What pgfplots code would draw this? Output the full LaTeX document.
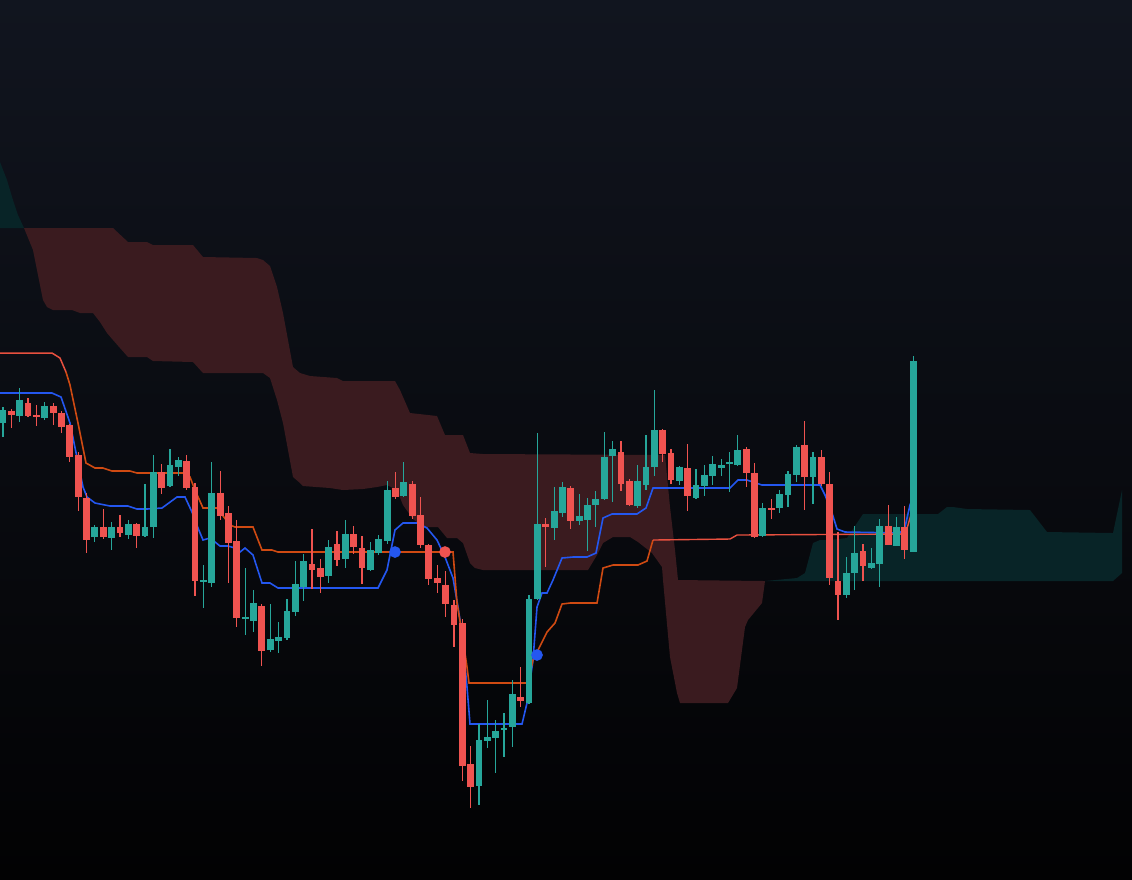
\documentclass[border=0pt]{standalone}
\usepackage{pgfplots}
\usepackage{pgfplotstable}
\pgfplotsset{compat=1.18}
\definecolor{cgreen}{HTML}{26A69A}
\definecolor{cred}{HTML}{EF5350}
\definecolor{cblue}{HTML}{2457F0}
\definecolor{ckijo}{HTML}{CF4A12}
\definecolor{ckijr}{HTML}{E8503F}
\definecolor{cloudred}{HTML}{3A1B1F}
\definecolor{cloudteal}{HTML}{082427}
\definecolor{bgtop}{HTML}{11151F}
\definecolor{bgmid}{HTML}{0C0E14}
\definecolor{bgbot}{HTML}{020203}

% candle index, open, high, low, close (chart rows, larger = lower price)
\pgfplotstableread{
i o h l c
0 423 407 437 410
1 411 409 428 415
2 416 388 422 400
3 403 398 417 416
4 415 405 426 417
5 418 402 420 406
6 406 403 425 413
7 413 411 433 427
8 425 424 462 457
9 455 452 511 497
10 498 493 553 540
11 537 525 542 527
12 527 509 539 537
13 538 522 550 527
14 527 515 537 533
15 535 520 539 524
16 524 523 548 536
17 536 484 537 527
18 527 455 538 472
19 472 464 494 488
20 486 449 487 465
21 467 457 476 460
22 461 455 490 488
23 487 483 596 581
24 582 565 608 580
25 583 462 587 493
26 493 471 520 516
27 513 506 583 543
28 541 520 627 618
29 619 568 635 617
30 621 590 632 603
31 606 604 666 651
32 650 604 652 639
33 641 622 653 637
34 638 599 640 611
35 612 561 616 584
36 587 554 601 561
37 564 529 589 570
38 568 559 593 577
39 576 540 583 547
40 544 531 566 560
41 559 520 568 534
42 534 526 554 547
43 548 536 584 568
44 570 542 571 550
45 553 535 555 539
46 541 481 544 490
47 488 472 499 497
48 496 462 497 482
49 484 481 519 516
50 515 497 548 545
51 545 544 585 579
52 578 565 593 583
53 585 571 617 604
54 605 600 647 625
55 623 619 781 766
56 764 746 808 787
57 786 724 805 740
58 741 700 748 737
59 738 720 773 731
60 730 713 757 728
61 727 680 747 694
62 697 667 707 701
63 703 595 704 599
64 599 433 600 524
65 524 518 567 527
66 528 487 540 511
67 513 482 517 487
68 488 486 529 521
69 521 494 525 516
70 520 498 551 505
71 505 491 527 499
72 499 432 500 457
73 456 441 502 449
74 452 441 491 484
75 481 479 506 505
76 506 465 508 481
77 485 435 490 467
78 467 390 476 430
79 430 429 462 454
80 453 449 484 480
81 481 466 485 467
82 468 444 511 496
83 498 469 499 485
84 486 465 496 475
85 476 456 485 464
86 468 459 476 465
87 464 452 492 462
88 465 435 466 450
89 449 447 487 473
90 473 463 538 537
91 536 503 537 508
92 508 499 519 510
93 508 490 513 494
94 495 471 507 474
95 475 445 482 447
96 445 421 510 477
97 477 452 504 457
98 457 450 486 484
99 484 472 585 578
100 581 532 620 595
101 595 557 598 573
102 573 526 590 553
103 551 544 581 566
104 568 548 569 563
105 564 519 587 526
106 526 505 545 545
107 546 517 546 527
108 527 506 559 550
109 552 356 552 361
}\candles

\begin{document}
\begin{tikzpicture}
\shade[top color=bgtop, middle color=bgmid, bottom color=bgbot] (0,0) rectangle (11.32cm,8.79cm);
\begin{axis}[at={(0,0)}, anchor=south west,
  width=11.32cm, height=8.79cm, scale only axis,
  xmin=0, xmax=1132, ymin=0, ymax=879, y dir=reverse,
  hide axis, clip=true]

% ---- cloud: bullish (teal) at left
\addplot[fill=cloudteal, draw=none] coordinates {
(0,162) (7,180) (13,200) (18,215) (24,228) (0,228)} -- cycle;
% ---- cloud: bearish (red)
\addplot[fill=cloudred, draw=none] coordinates {
(24,228) (113,228) (128,242) (147,242) (153,245) (193,245) (203,257) (257,258)
(263,260) (270,266) (277,287) (283,313) (293,367) (300,373) (310,376) (337,378)
(343,381) (395,381) (400,390) (410,413) (437,416) (445,435) (463,435) (470,453)
(483,454) (665,455) (670,507) (675,550) (678,580) (765,581)
(762,603) (748,620) (745,627) (737,688) (728,703) (680,703) (677,693) (670,657)
(663,580) (662,567) (652,553) (638,542) (630,537) (613,537) (603,543) (597,555)
(588,570) (483,570) (475,568) (470,563) (463,543) (457,538) (447,538) (438,527)
(423,527) (413,519) (403,505) (397,490) (387,485) (377,487) (363,489) (343,490)
(330,488) (303,486) (300,483) (293,477) (283,423) (277,400) (270,378) (263,373)
(203,373) (193,362) (153,361) (147,357) (128,357) (120,348) (113,340) (107,333)
(100,322) (93,313) (80,313) (72,310) (53,310) (47,307) (43,300) (33,250)} -- cycle;
% ---- cloud: bullish (teal) at right
\addplot[fill=cloudteal, draw=none] coordinates {
(765,581) (797,578) (805,573) (813,543) (820,540) (830,540) (847,538) (857,523)
(863,514) (938,514) (947,507) (953,507) (967,509) (1030,510) (1047,532) (1113,533)
(1122,490) (1122,573) (1113,581)} -- cycle;

% ---- Tenkan-sen
\addplot[cblue, line width=0.016cm, mark=none] coordinates {
(0,393) (52,393) (61,397) (70,423) (83,487) (87,497) (95,503) (110,506) (128,506)
(137,509) (147,509) (162,508) (177,497) (185,497) (192,512) (198,528) (203,540)
(210,538) (220,546) (228,546) (235,548) (240,552) (245,548) (253,555) (262,583)
(270,583) (278,588) (378,588) (387,570) (395,530) (403,523) (417,523) (427,528)
(437,540) (445,557) (453,578) (458,607) (462,633) (467,687) (470,724) (522,724)
(527,703) (533,660) (537,607) (542,593) (547,593) (553,580) (562,558) (573,557)
(587,557) (596,553) (603,518) (612,514) (637,514) (646,508) (653,488) (730,488)
(738,480) (747,480) (762,485) (820,485) (825,495) (832,513) (837,529) (845,532)
(900,533) (905,527) (910,505) (913,497)};
% ---- Kijun-sen
\addplot[ckijr, line width=0.015cm, mark=none] coordinates {
(0,353) (52,353) (60,358) (66,372)};
\addplot[ckijo, line width=0.016cm, mark=none] coordinates {
(66,372) (70,385) (78,423) (86,463) (95,468) (103,468) (112,471) (130,471)
(137,473) (187,473) (190,477) (195,490) (203,508) (217,508) (230,525) (235,527)
(253,527) (262,550) (272,550) (278,552) (453,552) (457,603) (462,633) (467,667)
(469,683) (527,683) (530,673) (533,660) (538,650) (547,632) (555,623) (562,604)
(570,603) (597,603) (603,568) (613,565) (638,565) (647,561) (653,540)};
\addplot[ckijr, line width=0.014cm, mark=none] coordinates {
(653,540) (730,539) (737,535) (905,534) (908,525) (913,508)};

% ---- wicks
\addplot[draw=none, mark=none,
  x filter/.expression={\thisrow{c}<\thisrow{o} ? x : nan},
  error bars/.cd, y dir=plus, y explicit, error mark=none,
  error bar style={draw=cgreen, line width=0.012cm, solid}]
  table[x expr=3+8.35*\thisrow{i}, y=h, y error expr=\thisrow{l}-\thisrow{h}] {\candles};
\addplot[draw=none, mark=none,
  x filter/.expression={\thisrow{c}>\thisrow{o} ? x : nan},
  error bars/.cd, y dir=plus, y explicit, error mark=none,
  error bar style={draw=cred, line width=0.012cm, solid}]
  table[x expr=3+8.35*\thisrow{i}, y=h, y error expr=\thisrow{l}-\thisrow{h}] {\candles};
% ---- bodies
\addplot[draw=none, mark=none,
  x filter/.expression={\thisrow{c}<\thisrow{o} ? x : nan},
  error bars/.cd, y dir=plus, y explicit, error mark=none,
  error bar style={draw=cgreen, line width=0.068cm, solid}]
  table[x expr=3+8.35*\thisrow{i}, y=c, y error expr=\thisrow{o}-\thisrow{c}] {\candles};
\addplot[draw=none, mark=none,
  x filter/.expression={\thisrow{c}>\thisrow{o} ? x : nan},
  error bars/.cd, y dir=plus, y explicit, error mark=none,
  error bar style={draw=cred, line width=0.068cm, solid}]
  table[x expr=3+8.35*\thisrow{i}, y=o, y error expr=\thisrow{c}-\thisrow{o}] {\candles};

% ---- Tenkan/Kijun crosses
\addplot[only marks, mark=*, mark size=1.45pt, color=cblue, fill=cblue] coordinates {(395,552) (537,655)};
\addplot[only marks, mark=*, mark size=1.45pt, color=cred, fill=cred] coordinates {(445,552)};
\end{axis}
\end{tikzpicture}
\end{document}
